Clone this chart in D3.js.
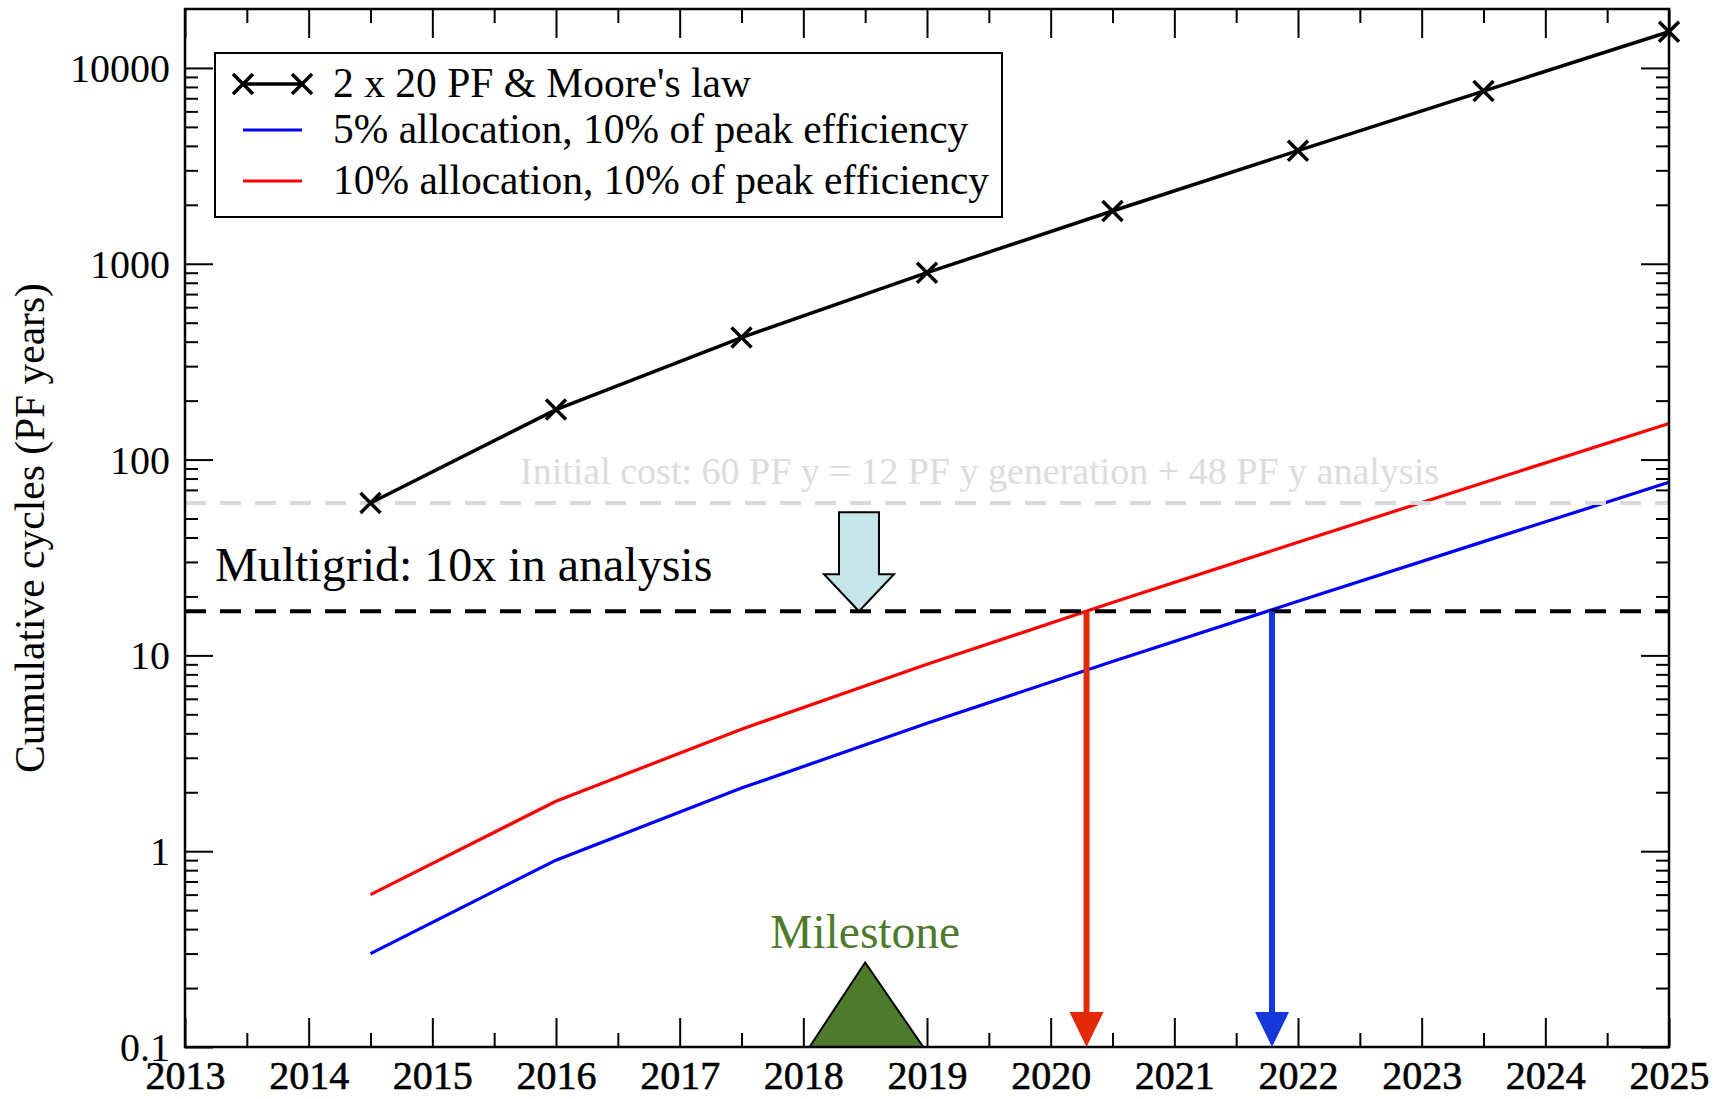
<!DOCTYPE html>
<html>
<head>
<meta charset="utf-8">
<script src="https://cdn.jsdelivr.net/npm/d3@7"></script>
<style>
  html, body { margin: 0; padding: 0; background: #fff; }
  svg { display: block; font-family: 'Liberation Serif', 'Times New Roman', serif; }
</style>
</head>
<body>
<div id="chart"></div>
<script>
// data
const years = [2014.5, 2016, 2017.5, 2019, 2020.5, 2022, 2023.5, 2025];
const mooreCycles = [60, 180, 420, 900, 1860, 3780, 7620, 15300];
const alloc5Cycles = [0.3, 0.9, 2.1, 4.5, 9.3, 18.9, 38.1, 76.5];
const alloc10Cycles = [0.6, 1.8, 4.2, 9.0, 18.6, 37.8, 76.2, 153];

const initialCost = 60;
const multigridCost = 16.8;
const crossYears = [2020.29, 2021.79];   // red, blue crossing of the multigrid line
const cutArrowYear = 2018.45;
const milestoneYear = 2018.5;
const milestoneSpan = [2018.05, 2018.97];
const milestoneTop = 0.27;

const xTickYears = d3.range(2013, 2026);
const yTickValues = [0.1, 1, 10, 100, 1000, 10000];

const seriesNames = [
  "2 x 20 PF & Moore's law",
  '5% allocation, 10% of peak efficiency',
  '10% allocation, 10% of peak efficiency',
];
const initialText = 'Initial cost: 60 PF y = 12 PF y generation + 48 PF y analysis';
const multigridText = 'Multigrid: 10x in analysis';
const milestoneText = 'Milestone';
const yTitle = 'Cumulative cycles (PF years)';

const W = 1727, H = 1099;
const margin = { top: 9, right: 58, bottom: 52, left: 185 };

const svg = d3.select('#chart')
  .append('svg')
  .attr('width', W)
  .attr('height', H);

const x = d3.scaleLinear().domain([2013, 2025]).range([margin.left, W - margin.right]);
const y = d3.scaleLog().domain([0.1, 20000]).range([H - margin.bottom, margin.top]);

const x0 = x.range()[0], x1 = x.range()[1];
const y0 = y.range()[0], y1 = y.range()[1];

// minor tick values
const xMinor = xTickYears.slice(0, -1).map(d => d + 0.5);
const yMinor = [];
[0.1, 1, 10, 100, 1000, 10000].forEach(dec => {
  for (let k = 2; k <= 9; k++) {
    if (dec * k < 20000) yMinor.push(dec * k);
  }
});

const axisStyle = g => {
  g.select('.domain').remove();
  g.selectAll('.tick line').attr('stroke', '#000').attr('stroke-width', 2);
};

// bottom
svg.append('g')
  .attr('transform', `translate(0,${y0})`)
  .call(d3.axisBottom(x).tickValues(xTickYears).tickSize(-29).tickFormat(d3.format('d')))
  .call(axisStyle)
  .call(g => g.selectAll('text')
    .attr('y', 42).attr('dy', 0)
    .attr('font-size', 40)
    .attr('font-family', "'Liberation Serif', serif")
    .attr('fill', '#000')
    .attr('stroke', '#000').attr('stroke-width', 0.6));
svg.append('g')
  .attr('transform', `translate(0,${y0})`)
  .call(d3.axisBottom(x).tickValues(xMinor).tickSize(-14).tickFormat(''))
  .call(axisStyle);
// top
svg.append('g')
  .attr('transform', `translate(0,${y1})`)
  .call(d3.axisTop(x).tickValues(xTickYears).tickSize(-29).tickFormat(''))
  .call(axisStyle);
svg.append('g')
  .attr('transform', `translate(0,${y1})`)
  .call(d3.axisTop(x).tickValues(xMinor).tickSize(-14).tickFormat(''))
  .call(axisStyle);
// left
svg.append('g')
  .attr('transform', `translate(${x0},0)`)
  .call(d3.axisLeft(y).tickValues(yTickValues).tickSize(-28).tickFormat(d => d < 1 ? '0.1' : d3.format('d')(d)))
  .call(axisStyle)
  .call(g => g.selectAll('text')
    .attr('x', -15).attr('dy', '0.34em')
    .attr('font-size', 40)
    .attr('font-family', "'Liberation Serif', serif")
    .attr('fill', '#000'));
svg.append('g')
  .attr('transform', `translate(${x0},0)`)
  .call(d3.axisLeft(y).tickValues(yMinor).tickSize(-13).tickFormat(''))
  .call(axisStyle);
// right
svg.append('g')
  .attr('transform', `translate(${x1},0)`)
  .call(d3.axisRight(y).tickValues(yTickValues).tickSize(-28).tickFormat(''))
  .call(axisStyle);
svg.append('g')
  .attr('transform', `translate(${x1},0)`)
  .call(d3.axisRight(y).tickValues(yMinor).tickSize(-13).tickFormat(''))
  .call(axisStyle);

// y title
svg.append('text')
  .attr('transform', `translate(44,528) rotate(-90)`)
  .attr('text-anchor', 'middle')
  .attr('font-size', 41.5)
  .text(yTitle);

const line = d3.line().x(d => x(d[0])).y(d => y(d[1]));

// allocation lines
svg.append('path')
  .datum(d3.zip(years, alloc5Cycles))
  .attr('d', line)
  .attr('fill', 'none')
  .attr('stroke', '#0000ff')
  .attr('stroke-width', 3.2);
svg.append('path')
  .datum(d3.zip(years, alloc10Cycles))
  .attr('d', line)
  .attr('fill', 'none')
  .attr('stroke', '#ff0000')
  .attr('stroke-width', 3.2);

// reference cost lines
svg.append('line')
  .attr('x1', x0).attr('x2', x1)
  .attr('y1', y(initialCost)).attr('y2', y(initialCost))
  .attr('stroke', '#d9d9d9')
  .attr('stroke-width', 4)
  .attr('stroke-dasharray', '21,14');
svg.append('line')
  .attr('x1', x0).attr('x2', x1)
  .attr('y1', y(multigridCost)).attr('y2', y(multigridCost))
  .attr('stroke', '#000')
  .attr('stroke-width', 4)
  .attr('stroke-dasharray', '21,14');

svg.append('text')
  .attr('x', 520)
  .attr('y', y(initialCost) - 19)
  .attr('font-size', 38)
  .attr('fill', '#dcdcdc')
  .text(initialText);

svg.append('text')
  .attr('x', 215)
  .attr('y', y(multigridCost) - 30)
  .attr('font-size', 48)
  .attr('fill', '#000')
  .text(multigridText);

// reduction arrow (light cyan)
{
  const cx = x(cutArrowYear);
  const tip = y(multigridCost);
  const pts = [
    [cx - 20, tip - 99], [cx + 20, tip - 99], [cx + 20, tip - 37],
    [cx + 35, tip - 37], [cx, tip], [cx - 35, tip - 37], [cx - 20, tip - 37],
  ];
  svg.append('path')
    .attr('d', d3.line()(pts) + 'Z')
    .attr('fill', '#c5e5e8')
    .attr('stroke', '#000')
    .attr('stroke-width', 2);
}

// crossing arrows
const arrowColors = ['#e22a06', '#1438d9'];
crossYears.forEach((yr, i) => {
  const ax = x(yr);
  svg.append('line')
    .attr('x1', ax).attr('x2', ax)
    .attr('y1', y(multigridCost)).attr('y2', y0 - 34)
    .attr('stroke', arrowColors[i])
    .attr('stroke-width', 6);
  svg.append('path')
    .attr('d', d3.line()([[ax - 17, y0 - 35], [ax + 17, y0 - 35], [ax, y0]]) + 'Z')
    .attr('fill', arrowColors[i]);
});

// milestone
svg.append('path')
  .attr('d', d3.line()([
    [x(milestoneSpan[0]), y0], [x(milestoneYear), y(milestoneTop)], [x(milestoneSpan[1]), y0],
  ]) + 'Z')
  .attr('fill', '#4e7a2b')
  .attr('stroke', '#000')
  .attr('stroke-width', 2);
svg.append('text')
  .attr('x', x(milestoneYear))
  .attr('y', 948)
  .attr('text-anchor', 'middle')
  .attr('font-size', 47.5)
  .attr('fill', '#4e7a2b')
  .text(milestoneText);

// Moore's law series
svg.append('path')
  .datum(d3.zip(years, mooreCycles))
  .attr('d', line)
  .attr('fill', 'none')
  .attr('stroke', '#000')
  .attr('stroke-width', 3.5);

const cross = (g, cx, cy) => {
  const s = 10;
  g.append('path')
    .attr('d', `M${cx - s},${cy - s}L${cx + s},${cy + s}M${cx - s},${cy + s}L${cx + s},${cy - s}`)
    .attr('stroke', '#000')
    .attr('stroke-width', 3.5)
    .attr('fill', 'none');
};
years.forEach((yr, i) => cross(svg, x(yr), y(mooreCycles[i])));

// frame
svg.append('rect')
  .attr('x', x0).attr('y', y1)
  .attr('width', x1 - x0).attr('height', y0 - y1)
  .attr('fill', 'none')
  .attr('stroke', '#000')
  .attr('stroke-width', 2.5);

// legend
const legend = svg.append('g');
legend.append('rect')
  .attr('x', 215).attr('y', 53)
  .attr('width', 787).attr('height', 164)
  .attr('fill', '#fff')
  .attr('stroke', '#000')
  .attr('stroke-width', 2);

const legendColors = ['#000', '#0000ff', '#ff0000'];
const legendRows = [84, 130, 181];
seriesNames.forEach((name, i) => {
  const ly = legendRows[i];
  legend.append('line')
    .attr('x1', 243).attr('x2', 302)
    .attr('y1', ly).attr('y2', ly)
    .attr('stroke', legendColors[i])
    .attr('stroke-width', i === 0 ? 3.5 : 3.2);
  if (i === 0) {
    cross(legend, 243, ly);
    cross(legend, 302, ly);
  }
  legend.append('text')
    .attr('x', 333)
    .attr('y', ly + 13)
    .attr('font-size', 41.5)
    .attr('fill', '#000')
    .text(name);
});
</script>
</body>
</html>
